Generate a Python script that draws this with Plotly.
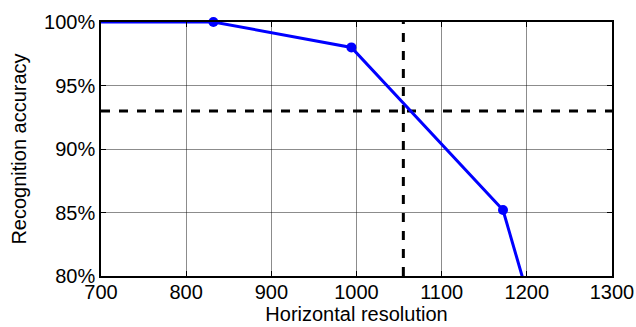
import plotly.graph_objects as go

resolution = [600, 832, 994, 1172, 1216]
accuracy = [100, 100, 98, 85.2, 75]
marker_res = [832, 994, 1172]
marker_acc = [100, 98, 85.2]
threshold_res = 1055
threshold_acc = 93
x_ticks = [700, 800, 900, 1000, 1100, 1200, 1300]
y_ticks = [80, 85, 90, 95, 100]
y_tick_labels = ["80%", "85%", "90%", "95%", "100%"]

FONT = "Arial, Liberation Sans, sans-serif"

fig = go.Figure()
fig.add_trace(go.Scatter(x=[700, 1300], y=[threshold_acc, threshold_acc], mode="lines",
                         line=dict(color="black", width=3, dash="dash"), showlegend=False))
fig.add_trace(go.Scatter(x=[threshold_res, threshold_res], y=[80, 100], mode="lines",
                         line=dict(color="black", width=3, dash="dash"), showlegend=False))
fig.add_trace(go.Scatter(x=resolution, y=accuracy, mode="lines",
                         line=dict(color="#0000ff", width=3), showlegend=False))
fig.add_trace(go.Scatter(x=marker_res, y=marker_acc, mode="markers",
                         marker=dict(color="#0000ff", size=10), showlegend=False, cliponaxis=False))

axis_common = dict(showline=True, linecolor="black", linewidth=1.5, mirror="ticks",
                   ticks="inside", ticklen=5, tickcolor="black", automargin=False,
                   showgrid=True, gridcolor="rgba(0,0,0,0.45)", gridwidth=1,
                   zeroline=False, tickfont=dict(family=FONT, size=20, color="black"),
                   title_font=dict(family=FONT, size=20, color="black"))

fig.update_xaxes(range=[700, 1300], tickvals=x_ticks, title_text="Horizontal resolution",
                 title_standoff=0, ticklabelstandoff=-3, **axis_common)
fig.update_yaxes(range=[80, 100], tickvals=y_ticks, ticktext=y_tick_labels,
                 title_text="Recognition accuracy", title_standoff=12, **axis_common)

fig.update_layout(width=636, height=327, margin=dict(l=101, r=24, t=22, b=51),
                  plot_bgcolor="white", paper_bgcolor="white", template="none")
fig.write_html("out.html", post_script="document.body.style.margin='0';",
               config={"displayModeBar": False})
